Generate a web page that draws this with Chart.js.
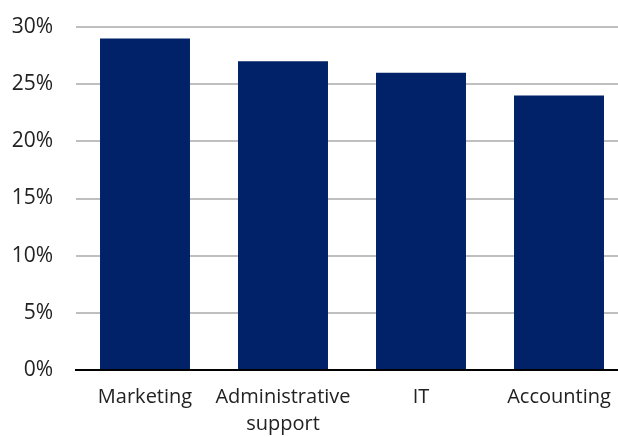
<!DOCTYPE html>
<html>
<head>
<meta charset="utf-8">
<script src="https://cdn.jsdelivr.net/npm/chart.js@4"></script>
<style>
  html, body { margin: 0; padding: 0; background: #fff; overflow: hidden; }
  #wrap { width: 628px; height: 437px; }
</style>
</head>
<body>
<div id="wrap"><canvas id="chart"></canvas></div>
<script>
const categories = ['Marketing', ['Administrative', 'support'], 'IT', 'Accounting'];
const shares = [29, 27, 26, 24];
const yTicks = [0, 5, 10, 15, 20, 25, 30];

const ctx = document.getElementById('chart').getContext('2d');
const chart = new Chart(ctx, {
    type: 'bar',
    data: {
        labels: categories,
        datasets: [{
            label: 'Share',
            data: shares,
            backgroundColor: '#012169',
            borderWidth: 0,
            categoryPercentage: 1,
            barPercentage: 0.652
        }]
    },
    options: {
        responsive: true,
        maintainAspectRatio: false,
        animation: false,
        layout: { padding: { top: 27, left: 0, right: 0, bottom: 0 } },
        plugins: { legend: { display: false }, tooltip: { enabled: false } },
        scales: {
            x: {
                grid: { display: false, drawTicks: false },
                border: { display: true, color: '#000', width: 2 },
                afterFit: function (axis) {
                    axis.height = 67;
                },
                ticks: {
                    color: '#222',
                    font: { family: 'Open Sans', size: 20, lineHeight: 1.35 },
                    padding: 14,
                    maxRotation: 0,
                    autoSkip: false
                }
            },
            y: {
                min: 0,
                max: 30,
                afterBuildTicks: function (axis) {
                    axis.ticks = yTicks.map(v => ({ value: v }));
                },
                afterFit: function (axis) {
                    axis.width = 76;
                    axis.paddingTop = 0;
                    axis.paddingBottom = 0;
                },
                grid: { color: '#bfbfbf', lineWidth: 2, drawTicks: false },
                border: { display: false },
                ticks: {
                    color: '#222',
                    font: { family: 'Open Sans', size: 21 },
                    padding: 23,
                    callback: v => v + '%'
                }
            }
        }
    }
});
</script>
</body>
</html>
